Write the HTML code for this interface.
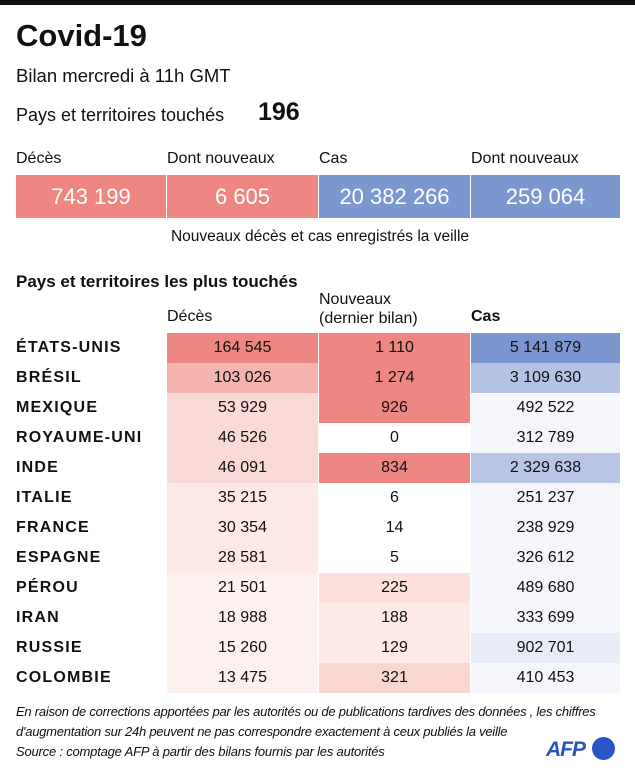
<!DOCTYPE html>
<html><head><meta charset="utf-8"><style>
body{margin:0;width:635px;height:768px;background:#fff;font-family:"Liberation Sans",sans-serif;color:#111;position:relative;overflow:hidden}
.a{position:absolute;white-space:nowrap}
.top{left:0;top:0;width:635px;height:5px;background:#111}
.box{position:absolute;top:175px;height:43px;line-height:43px;text-align:center;color:#fff;font-size:22px}
.cell{position:absolute;height:30px;line-height:30px;text-align:center;font-size:16px;width:151px}
.nm{position:absolute;left:16px;font-size:16px;font-weight:bold;height:30px;line-height:30px;letter-spacing:1.2px}
</style></head><body>
<div class="a top"></div>
<div class="a" style="left:16px;top:18px;font-size:31px;font-weight:bold">Covid-19</div>
<div class="a" style="left:16px;top:65px;font-size:18.5px">Bilan mercredi à 11h GMT</div>
<div class="a" style="left:16px;top:105px;font-size:18px">Pays et territoires touchés</div>
<div class="a" style="left:258px;top:98px;font-size:25px;font-weight:bold">196</div>
<div class="a" style="left:16px;top:150px;font-size:16px">Décès</div>
<div class="a" style="left:167px;top:150px;font-size:16px">Dont nouveaux</div>
<div class="a" style="left:319px;top:150px;font-size:16px">Cas</div>
<div class="a" style="left:471px;top:150px;font-size:16px">Dont nouveaux</div>
<div class="box" style="left:16px;width:150px;background:#ee8681">743 199</div>
<div class="box" style="left:167px;width:151px;background:#ee8681">6 605</div>
<div class="box" style="left:319px;width:151px;background:#7b97cf">20 382 266</div>
<div class="box" style="left:471px;width:149px;background:#7b97cf">259 064</div>
<div class="a" style="left:0;width:640px;text-align:center;top:228px;font-size:15.5px">Nouveaux décès et cas enregistrés la veille</div>
<div class="a" style="left:16px;top:272px;font-size:17px;font-weight:bold">Pays et territoires les plus touchés</div>
<div class="a" style="left:167px;top:308px;font-size:16px">Décès</div>
<div class="a" style="left:319px;top:290px;font-size:16px;line-height:19px">Nouveaux<br>(dernier bilan)</div>
<div class="a" style="left:471px;top:308px;font-size:16px;font-weight:bold">Cas</div>
<div id="t"></div>
<div class="a" style="left:16px;top:702px;font-size:13px;font-style:italic;line-height:20px;letter-spacing:-0.25px">En raison de corrections apportées par les autorités ou de publications tardives des données , les chiffres<br>d'augmentation sur 24h peuvent ne pas correspondre exactement à ceux publiés la veille</div>
<div class="a" style="left:16px;top:744px;font-size:13px;font-style:italic;letter-spacing:-0.2px">Source : comptage AFP à partir des bilans fournis par les autorités</div>
<div class="a" style="left:546px;top:738px;font-size:21px;font-weight:bold;font-style:italic;color:#2b55c4;letter-spacing:-1px">AFP</div>
<div class="a" style="left:592px;top:737px;width:23px;height:23px;border-radius:50%;background:#2b55c4"></div>
<script>
var R=[["ÉTATS-UNIS","164 545","1 110","5 141 879","#ee8681","#ee8681","#7b97cf"],
["BRÉSIL","103 026","1 274","3 109 630","#f4b4ae","#ee8681","#b4c2e5"],
["MEXIQUE","53 929","926","492 522","#fadad6","#ee8681","#f4f6fb"],
["ROYAUME-UNI","46 526","0","312 789","#fadad6","#ffffff","#f4f6fb"],
["INDE","46 091","834","2 329 638","#fadad6","#ee8681","#b8c5e6"],
["ITALIE","35 215","6","251 237","#fce9e6","#ffffff","#f4f6fb"],
["FRANCE","30 354","14","238 929","#fce9e6","#ffffff","#f4f6fb"],
["ESPAGNE","28 581","5","326 612","#fce9e6","#ffffff","#f4f6fb"],
["PÉROU","21 501","225","489 680","#fdf1ef","#fde0dc","#f4f6fb"],
["IRAN","18 988","188","333 699","#fdf1ef","#fdeae7","#f4f6fb"],
["RUSSIE","15 260","129","902 701","#fdf1ef","#fdeae7","#e8ecf7"],
["COLOMBIE","13 475","321","410 453","#fdf1ef","#fad6d0","#f4f6fb"]];
var h="";R.forEach(function(r,i){var y=333+i*30;
h+='<div class="nm" style="top:'+y+'px">'+r[0]+'</div>';
h+='<div class="cell" style="top:'+y+'px;left:167px;background:'+r[4]+'">'+r[1]+'</div>';
h+='<div class="cell" style="top:'+y+'px;left:319px;background:'+r[5]+'">'+r[2]+'</div>';
h+='<div class="cell" style="top:'+y+'px;left:471px;width:149px;background:'+r[6]+'">'+r[3]+'</div>';});
document.getElementById("t").innerHTML=h;
</script>
</body></html>
